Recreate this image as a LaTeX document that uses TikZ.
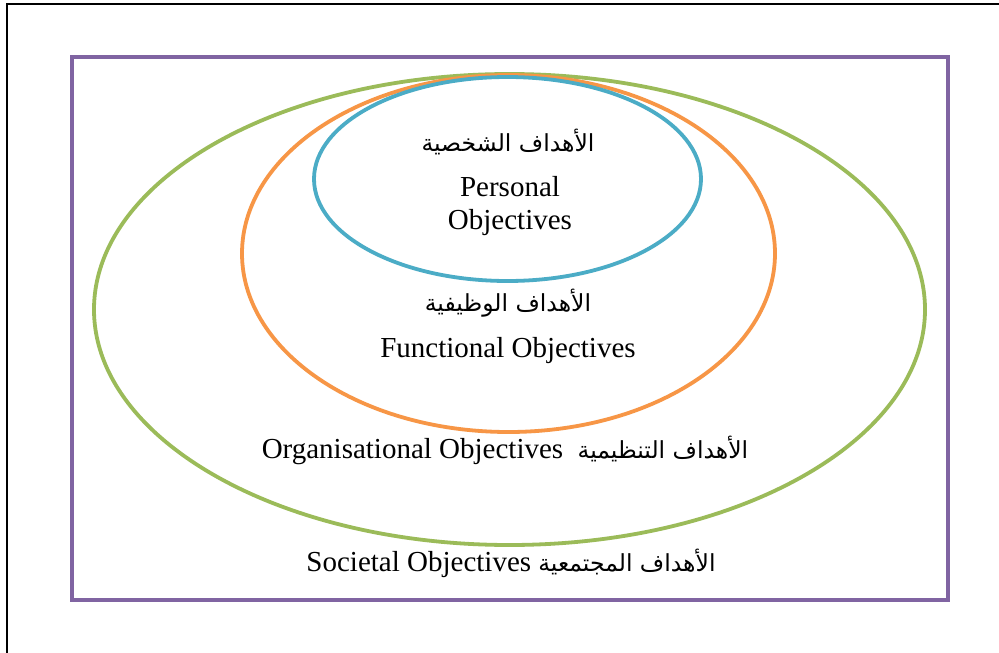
\documentclass[tikz,border=0pt]{standalone}
\usepackage{fontspec}
\setmainfont{Liberation Serif}
\newfontfamily\arabicfont[Script=Arabic]{DejaVu Sans}
\TeXXeTstate=1
\definecolor{framepurple}{HTML}{8064A2}
\definecolor{socgreen}{HTML}{9BBB59}
\definecolor{funcorange}{HTML}{F79646}
\definecolor{persblue}{HTML}{4BACC6}
\tikzset{
  ring/.style={line width=3.8pt},
  entxt/.style={font=\fontsize{29}{33}\selectfont, inner sep=0pt, align=center},
}
\newcommand{\ar}[1]{{\arabicfont\fontsize{23.5}{28}\selectfont\beginR #1\endR}}
\begin{document}
\begin{tikzpicture}[x=1pt,y=-1pt]
\useasboundingbox (0,0) rectangle (999,653);
\clip (0,0) rectangle (999,653);
\fill[white] (0,0) rectangle (999,653);
% outer black frame (extends beyond the picture)
\draw[line width=2.2pt, black] (7,4) rectangle (1020,680);
% purple frame
\draw[line width=4pt, framepurple] (72,57) rectangle (948,600);
% ellipses
\draw[ring, socgreen] (509.5,309.5) ellipse [x radius=415.5, y radius=235.5];
\draw[ring, funcorange] (508.5,253.5) ellipse [x radius=266.5, y radius=178.5];
\draw[ring, persblue] (507.5,179) ellipse [x radius=193.5, y radius=102];
% texts
\node[entxt] (parab) at (508,142) {\ar{الأهداف الشخصية}};
\node[entxt] (pers) at (510,206) {Personal\\Objectives};
\node[entxt] (farab) at (508,303) {\ar{الأهداف الوظيفية}};
\node[entxt] (func) at (508,351) {Functional Objectives};
\node[entxt] (org) at (505,450) {Organisational Objectives\ \ \ar{الأهداف التنظيمية}};
\node[entxt] (soc) at (511,563) {Societal Objectives \ar{الأهداف المجتمعية}};
\end{tikzpicture}
\end{document}
